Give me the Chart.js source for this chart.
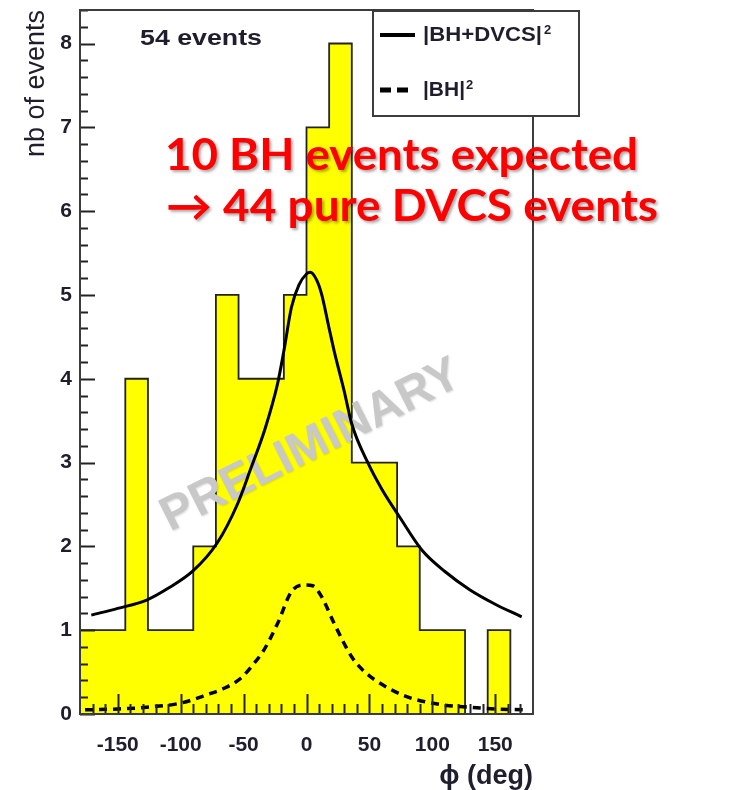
<!DOCTYPE html>
<html>
<head>
<meta charset="utf-8">
<script src="https://cdn.jsdelivr.net/npm/chart.js@4/dist/chart.umd.min.js"></script>
<style>
  body { margin: 0; background: #fff; }
</style>
</head>
<body>
<canvas id="phiChart" width="738" height="790"></canvas>
<script>
// Farben
let color_fill = "rgb(255,255,0)";
let color_outline = "rgb(35,35,35)";
let color_frame = "rgb(60,60,60)";
let color_text = "rgb(30,30,45)";
let color_red = "rgb(255,0,0)";
let color_watermark = "rgb(200,200,200)";

// Histogramm: Bin-Kanten in phi (deg) und Anzahl pro Bin
const binEdges = [-180, -162, -144, -126, -108, -90, -72, -54, -36, -18, 0, 18, 36, 54, 72, 90, 108, 126, 144, 162, 180];
const counts = [1, 1, 4, 1, 1, 2, 5, 4, 4, 5, 7, 8, 3, 3, 2, 1, 1, 0, 1, 0];

// |BH+DVCS|^2 Kurve
const phiFull = [-171, -150, -127, -110, -90, -71, -55, -44, -33, -23, -18, -12, -6, 0, 3, 8, 12, 18, 22, 30, 36, 49, 60, 74, 92, 110, 130, 150, 171];
const valFull = [1.18, 1.26, 1.36, 1.5, 1.71, 2.04, 2.5, 2.94, 3.4, 3.94, 4.33, 4.85, 5.12, 5.25, 5.27, 5.18, 5.01, 4.6, 4.33, 3.85, 3.46, 2.99, 2.68, 2.35, 1.95, 1.7, 1.48, 1.31, 1.16];

// |BH|^2 Kurve
const phiBH = [-176, -150, -127, -100, -79, -65, -52, -43, -34, -23, -12, -2, 5, 12, 22, 36, 45, 55, 79, 108, 130, 150, 173];
const valBH = [0.05, 0.06, 0.08, 0.13, 0.23, 0.31, 0.43, 0.58, 0.76, 1.08, 1.46, 1.54, 1.53, 1.4, 1.08, 0.68, 0.52, 0.4, 0.21, 0.11, 0.08, 0.06, 0.05];

// Achsenbeschriftung
const xTicks = [-150, -100, -50, 0, 50, 100, 150];
const yTicks = [0, 1, 2, 3, 4, 5, 6, 7, 8];

const histPoints = binEdges.map((e, i) => ({ x: e, y: i < counts.length ? counts[i] : 0 }));
const fullPoints = phiFull.map((p, i) => ({ x: p, y: valFull[i] }));
const bhPoints = phiBH.map((p, i) => ({ x: p, y: valBH[i] }));

// Text horizontal auf eine Breite ziehen
function textFit(ctx, text, x, y, font, width) {
    ctx.font = font;
    const w = ctx.measureText(text).width;
    ctx.save();
    ctx.translate(x, y);
    ctx.scale(width / w, 1);
    ctx.fillText(text, 0, 0);
    ctx.restore();
}

const wasserzeichen = {
    id: 'wasserzeichen',
    afterDatasetDraw(chart, args) {
        if (args.index !== 2) return;
        const ctx = chart.ctx;
        ctx.save();
        ctx.translate(311, 446);
        ctx.rotate(-26.7 * Math.PI / 180);
        ctx.font = 'bold 48px "Liberation Sans"';
        ctx.textAlign = 'center';
        ctx.textBaseline = 'middle';
        ctx.shadowColor = 'rgba(0,0,0,0.15)';
        ctx.shadowBlur = 2;
        ctx.shadowOffsetX = 1;
        ctx.shadowOffsetY = 1;
        ctx.fillStyle = color_watermark;
        ctx.fillText('PRELIMINARY', 0, 0);
        ctx.restore();
    }
};

const rahmen = {
    id: 'rahmen',
    afterDatasetsDraw(chart) {
        const ctx = chart.ctx;
        const a = chart.chartArea;
        const xs = chart.scales.x, ys = chart.scales.y;
        ctx.save();
        ctx.strokeStyle = color_outline;
        ctx.lineWidth = 2;
        ctx.beginPath();
        // y ticks nach innen, klein alle 0.2
        for (let k = 0; k <= 42; k++) {
            const py = Math.round(ys.getPixelForValue(k / 5)) + 0.5;
            const len = (k % 5 === 0) ? 15 : 8;
            ctx.moveTo(a.left, py);
            ctx.lineTo(a.left + len, py);
        }
        // x ticks nach innen, klein alle 10 deg
        for (let v = -170; v <= 170; v += 10) {
            const px = Math.round(xs.getPixelForValue(v)) + 0.5;
            const len = (v % 50 === 0) ? 20 : 10;
            ctx.moveTo(px, a.bottom);
            ctx.lineTo(px, a.bottom - len);
        }
        ctx.stroke();

        ctx.strokeStyle = color_frame;
        ctx.strokeRect(a.left, a.top, a.right - a.left, a.bottom - a.top);
        ctx.restore();
    },
    afterDraw(chart) {
        const ctx = chart.ctx;
        ctx.save();

        // Anzahl
        ctx.fillStyle = color_text;
        ctx.textBaseline = 'alphabetic';
        textFit(ctx, '54 events', 140, 45, 'bold 22px "Liberation Sans"', 122);

        // Legende
        ctx.fillStyle = '#fff';
        ctx.fillRect(373, 11, 206, 105);
        ctx.strokeStyle = color_frame;
        ctx.lineWidth = 2;
        ctx.strokeRect(373, 11, 206, 105);

        ctx.strokeStyle = '#000';
        ctx.lineWidth = 4;
        ctx.beginPath();
        ctx.moveTo(380, 35);
        ctx.lineTo(415, 35);
        ctx.stroke();
        ctx.setLineDash([11, 6]);
        ctx.lineWidth = 5;
        ctx.beginPath();
        ctx.moveTo(380, 90);
        ctx.lineTo(411, 90);
        ctx.stroke();
        ctx.setLineDash([]);

        ctx.fillStyle = color_text;
        textFit(ctx, '|BH+DVCS|', 423, 41, 'bold 20px "Liberation Sans"', 119);
        textFit(ctx, '|BH|', 423, 96, 'bold 20px "Liberation Sans"', 42);
        ctx.font = 'bold 13px "Liberation Sans"';
        ctx.fillText('2', 544, 34);
        ctx.fillText('2', 466, 89);

        // roter Kommentar
        ctx.fillStyle = color_red;
        ctx.shadowColor = 'rgba(0,0,0,0.35)';
        ctx.shadowBlur = 3;
        ctx.shadowOffsetX = 2;
        ctx.shadowOffsetY = 2;
        textFit(ctx, '10 BH events expected', 165, 170, 'bold 43px Lato, "DejaVu Sans"', 473);
        textFit(ctx, '\u2192 44 pure DVCS events', 166, 221, 'bold 43px Lato, "DejaVu Sans"', 492);
        ctx.restore();
    }
};

new Chart(document.getElementById('phiChart').getContext('2d'), {
    type: 'line',
    data: {
        datasets: [{
            label: '|BH+DVCS|²',
            data: fullPoints,
            borderColor: '#000',
            borderWidth: 3,
            pointRadius: 0,
            fill: false,
            cubicInterpolationMode: 'monotone',
            order: 1
        }, {
            label: '|BH|²',
            data: bhPoints,
            borderColor: '#000',
            borderWidth: 3.5,
            borderDash: [8, 6],
            pointRadius: 0,
            fill: false,
            cubicInterpolationMode: 'monotone',
            order: 2
        }, {
            label: 'events',
            data: histPoints,
            stepped: 'before',
            borderColor: color_outline,
            borderWidth: 1.8,
            backgroundColor: color_fill,
            pointRadius: 0,
            fill: 'origin',
            order: 3
        }]
    },
    options: {
        responsive: false,
        animation: false,
        layout: { padding: { top: 10, right: 205, left: 0, bottom: 0 } },
        plugins: {
            legend: { display: false },
            tooltip: { enabled: false }
        },
        scales: {
            x: {
                type: 'linear',
                min: -180,
                max: 180,
                afterBuildTicks: s => { s.ticks = xTicks.map(v => ({ value: v })); },
                afterFit: s => { s.height = 76; s.paddingLeft = 0; s.paddingRight = 0; },
                grid: { display: false, drawTicks: false },
                border: { display: false },
                ticks: {
                    padding: 19,
                    color: color_text,
                    font: { family: 'Liberation Sans', size: 21, weight: 'bold' }
                },
                title: {
                    display: true,
                    text: 'ϕ (deg)',
                    align: 'end',
                    color: color_text,
                    padding: { top: 0, bottom: 0 },
                    font: { family: 'Liberation Sans', size: 27, weight: 'bold', lineHeight: 1 }
                }
            },
            y: {
                min: 0,
                max: 8.4,
                afterBuildTicks: s => { s.ticks = yTicks.map(v => ({ value: v })); },
                afterFit: s => { s.width = 80; s.paddingTop = 0; s.paddingBottom = 0; },
                grid: { display: false, drawTicks: false },
                border: { display: false },
                ticks: {
                    padding: 8,
                    color: color_text,
                    font: { family: 'Liberation Sans', size: 21, weight: 'bold' }
                },
                title: {
                    display: true,
                    text: 'nb of events',
                    align: 'end',
                    color: color_text,
                    padding: { top: 23, bottom: 0 },
                    font: { family: 'Liberation Sans', size: 27, lineHeight: 1 }
                }
            }
        }
    },
    plugins: [wasserzeichen, rahmen]
});
</script>
</body>
</html>
